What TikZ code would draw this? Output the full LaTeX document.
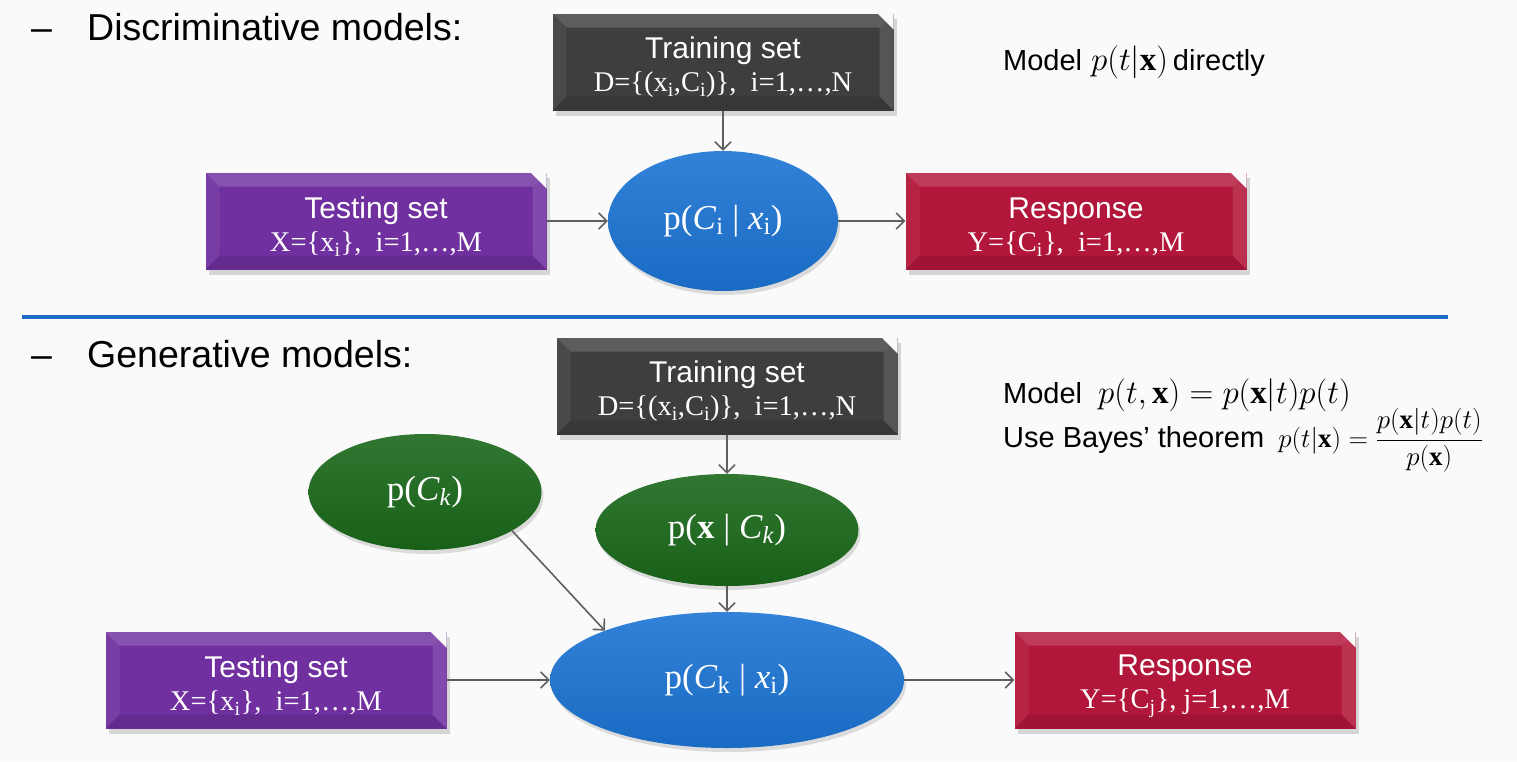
\documentclass[tikz,border=0pt]{standalone}
\usepackage{fix-cm}
\usepackage{amsmath}
\usepackage{fontspec}
\setmainfont{Liberation Serif}
\setsansfont{Liberation Sans}
\usetikzlibrary{arrows.meta,positioning,shadows,shapes.geometric}

\definecolor{traingray}{RGB}{62,62,62}
\definecolor{testpurple}{RGB}{112,48,160}
\definecolor{respred}{RGB}{178,22,58}
\definecolor{postblue}{RGB}{28,116,212}
\definecolor{probgreen}{RGB}{26,104,26}
\definecolor{rulerblue}{RGB}{30,108,200}
\definecolor{arrowgray}{RGB}{95,95,95}
\definecolor{slidebg}{RGB}{250,250,250}

\newcommand{\headfont}{\sffamily\fontsize{37.5}{44}\selectfont}
\newcommand{\titlefont}{\sffamily\fontsize{30}{34}\selectfont}
\newcommand{\datafont}{\rmfamily\fontsize{28.5}{33}\selectfont}
\newcommand{\probfont}{\rmfamily\fontsize{35}{42}\selectfont}
\newcommand{\notefont}{\sffamily\fontsize{29}{34}\selectfont}
\newcommand{\notemath}{\fontsize{33}{38}\selectfont}

\begin{document}
\begin{tikzpicture}[x=1pt,y=-1pt,on grid,
    flow/.style={draw=arrowgray,line width=1.6pt,-{Straight Barb[length=8pt,width=16pt]}},
    note/.style={anchor=base west,inner sep=0pt},
    databox/.style={rectangle,fill=#1,minimum width=341pt,minimum height=97pt,
      inner sep=0pt,align=center,text=white,font=\datafont,
      drop shadow={shadow xshift=3pt,shadow yshift=-5pt,opacity=.3},
      path picture={
        \fill[white,opacity=.16] (path picture bounding box.north west) -- (path picture bounding box.north east)
          -- ([shift={(-14pt,-14pt)}]path picture bounding box.north east) -- ([shift={(14pt,-14pt)}]path picture bounding box.north west) -- cycle;
        \fill[white,opacity=.06] (path picture bounding box.north west) -- ([shift={(14pt,-14pt)}]path picture bounding box.north west)
          -- ([shift={(14pt,14pt)}]path picture bounding box.south west) -- (path picture bounding box.south west) -- cycle;
        \fill[white,opacity=.12] (path picture bounding box.north east) -- (path picture bounding box.south east)
          -- ([shift={(-14pt,14pt)}]path picture bounding box.south east) -- ([shift={(-14pt,-14pt)}]path picture bounding box.north east) -- cycle;
        \fill[black,opacity=.1] (path picture bounding box.south west) -- ([shift={(14pt,14pt)}]path picture bounding box.south west)
          -- ([shift={(-14pt,14pt)}]path picture bounding box.south east) -- (path picture bounding box.south east) -- cycle;
        \fill[slidebg] (path picture bounding box.north east) -- ([xshift=-16pt]path picture bounding box.north east)
          -- ([yshift=-16pt]path picture bounding box.north east) -- cycle;
      }},
    probnode/.style={ellipse,inner sep=0pt,text=white,font=\probfont,
      top color=#1!90!white,bottom color=#1!92!black,
      drop shadow={shadow xshift=2pt,shadow yshift=-4pt,opacity=.25}}]

\useasboundingbox (0,0) rectangle (1517,761);
\fill[slidebg] (0,0) rectangle (1517,761);

% discriminative
\node[note,font=\headfont] (dash1) at (31,40) {--};
\node[note,font=\headfont] (head1) at (87,40) {Discriminative models:};
\node[note,font=\notefont] (model1) at (1003,70) {Model\hspace{9pt}{\notemath$p(t|\mathbf{x})$}\,directly};

\node[databox=traingray] (train1) at (723,62) {{\titlefont\rule{0pt}{33pt}Training set}\\D=\{(x\textsubscript{i},C\textsubscript{i})\}, \ i=1,\dots,N};
\node[probnode=postblue,minimum width=230pt,minimum height=140pt] (post1) [below=159pt of train1]
  {p(\textit{C}\textsubscript{i} | \textit{x}\textsubscript{i})};
\node[databox=testpurple] (test1) [left=347pt of post1] {{\titlefont\rule{0pt}{33pt}Testing set}\\X=\{x\textsubscript{i}\}, \ i=1,\dots,M};
\node[databox=respred] (resp1) [right=353pt of post1] {{\titlefont\rule{0pt}{33pt}Response}\\Y=\{C\textsubscript{i}\}, \ i=1,\dots,M};

\draw[flow] (train1) -- (post1);
\draw[flow] (test1) -- (post1);
\draw[flow] (post1) -- (resp1);

\draw[rulerblue,line width=3.5pt] (22,317) -- (1448,317);

% generative
\node[note,font=\headfont] (dash2) at (31,367) {--};
\node[note,font=\headfont] (head2) at (87,367) {Generative models:};
\node[note,font=\notefont] (model2) at (1003,403) {Model\hspace{16pt}{\notemath$p(t,\mathbf{x}) = p(\mathbf{x}|t)p(t)$}};
\node[note,font=\notefont] (bayes) at (1003,447) {Use Bayes’ theorem\hspace{14pt}{\fontsize{27}{31}\selectfont$p(t|\mathbf{x}) = \dfrac{p(\mathbf{x}|t)p(t)}{p(\mathbf{x})}$}};

\node[databox=traingray] (train2) at (727,386) {{\titlefont\rule{0pt}{33pt}Training set}\\D=\{(x\textsubscript{i},C\textsubscript{i})\}, \ i=1,\dots,N};
\node[probnode=probgreen,minimum width=263pt,minimum height=112pt] (lik) [below=144pt of train2]
  {p(\textbf{x} | \textit{C}\textsubscript{\textit{k}})};
\node[probnode=probgreen,minimum width=233pt,minimum height=116pt] (prior) at (425,492)
  {p(\textit{C}\textsubscript{\textit{k}})};
\node[probnode=postblue,minimum width=354pt,minimum height=136pt] (post2) [below=150pt of lik]
  {p(\textit{C}\textsubscript{k} | \textit{x}\textsubscript{i})};
\node[databox=testpurple] (test2) [left=451pt of post2] {{\titlefont\rule{0pt}{33pt}Testing set}\\X=\{x\textsubscript{i}\}, \ i=1,\dots,M};
\node[databox=respred] (resp2) [right=458pt of post2] {{\titlefont\rule{0pt}{33pt}Response}\\Y=\{C\textsubscript{j}\}, j=1,\dots,M};

\draw[flow] (train2) -- (lik);
\draw[flow] (lik) -- (post2);
\draw[flow] (prior.-24) -- (post2.158);
\draw[flow] (test2) -- (post2);
\draw[flow] (post2) -- (resp2);
\end{tikzpicture}
\end{document}
